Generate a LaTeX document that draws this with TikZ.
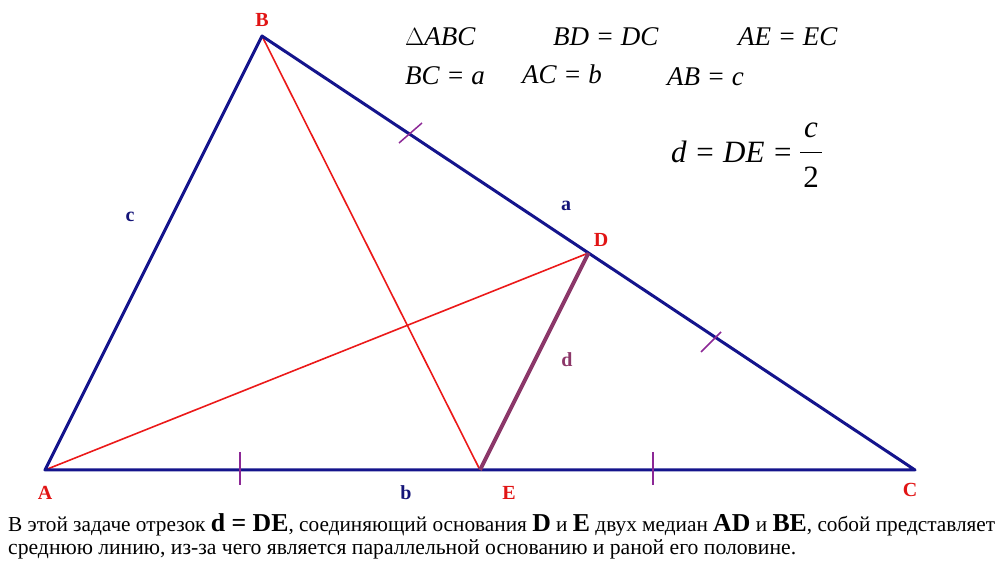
\documentclass[tikz,border=0pt]{standalone}
\usepackage{fontspec}
\setmainfont{Liberation Serif}
\usepackage{graphicx}
\begin{document}
\begin{tikzpicture}[x=1pt,y=-1pt,
  side/.style={draw={rgb,255:red,20;green,20;blue,140},line width=3pt},
  med/.style={draw={rgb,255:red,235;green,25;blue,25},line width=1.6pt},
  dseg/.style={draw={rgb,255:red,140;green,55;blue,105},line width=4pt},
  tick/.style={draw={rgb,255:red,140;green,40;blue,150},line width=2pt},
  vlab/.style={text={rgb,255:red,225;green,20;blue,20},font=\bfseries\fontsize{20}{20}\selectfont},
  slab/.style={text={rgb,255:red,20;green,20;blue,120},font=\bfseries\fontsize{20}{20}\selectfont},
  eq/.style={anchor=west,font=\itshape\fontsize{27}{27}\selectfont,inner sep=0pt}]
\useasboundingbox (0,0) rectangle (997,561);
\coordinate (A) at (45,470);
\coordinate (B) at (262,36);
\coordinate (C) at (915,470);
\coordinate (D) at (588.5,253);
\coordinate (E) at (480,470);
% medians
\draw[med] (A) -- (D);
\draw[med] (B) -- (E);
% triangle
\draw[side,line join=round] (A) -- (B) -- (C) -- cycle;
% DE
\draw[dseg] (E) -- (D);
% ticks
\coordinate (t1a) at (240,452); \coordinate (t1b) at (240,485);
\coordinate (t2a) at (653,452); \coordinate (t2b) at (653,485);
\draw[tick] (t1a) -- (t1b);
\draw[tick] (t2a) -- (t2b);
\coordinate (t3a) at (399,143); \coordinate (t3b) at (422,123);
\coordinate (t4a) at (701,352); \coordinate (t4b) at (721,332);
\draw[tick,line width=1.5pt] (t3a) -- (t3b);
\draw[tick,line width=1.5pt] (t4a) -- (t4b);
% vertex labels
\node[vlab] (lB) at (262,20) {B};
\node[vlab] (lA) at (45,493) {A};
\node[vlab] (lC) at (910,490) {C};
\node[vlab] (lD) at (601,240) {D};
\node[vlab] (lE) at (509,493) {E};
\node[slab] (lc) at (130,217) {c};
\node[slab] (la) at (566,206) {a};
\node[slab] (lb) at (406,493) {b};
\node[slab,text={rgb,255:red,140;green,55;blue,105}] (ld) at (567,360) {d};
% equations
\node[eq] (e1) at (405,37) {$\Delta$ABC};
\node[eq] (e2) at (553,37) {BD = DC};
\node[eq] (e3) at (738,37) {AE = EC};
\node[eq] (e4) at (405,76) {BC = a};
\node[eq] (e5) at (522,74) {AC = b};
\node[eq] (e6) at (667,77) {AB = c};
\node[eq,font=\itshape\fontsize{31}{31}\selectfont] (e7) at (671,152) {d = DE =};
\node[font=\itshape\fontsize{31}{31}\selectfont,inner sep=0pt] (e8) at (811,130) {c};
\node[font=\fontsize{31}{31}\selectfont,inner sep=0pt] (e9) at (811,177) {2};
\coordinate (fb1) at (800,153); \coordinate (fb2) at (822,153);
\draw[line width=1pt] (fb1) -- (fb2);
% bottom text
\node[anchor=north west,inner sep=0pt,align=left] (txt) at (8,513) {\resizebox{987pt}{!}{\fontsize{19}{25}\selectfont В этой задаче отрезок {\bfseries\fontsize{23}{25}\selectfont d = DE}, соединяющий основания {\bfseries\fontsize{23}{25}\selectfont D} и {\bfseries\fontsize{23}{25}\selectfont E} двух медиан {\bfseries\fontsize{23}{25}\selectfont AD} и {\bfseries\fontsize{23}{25}\selectfont BE}, собой представляет}};
\node[anchor=north west,inner sep=0pt] (txt2) at (8,539) {\resizebox{788pt}{!}{\fontsize{19}{25}\selectfont среднюю линию, из-за чего является параллельной основанию и раной его половине.}};
\end{tikzpicture}
\end{document}
